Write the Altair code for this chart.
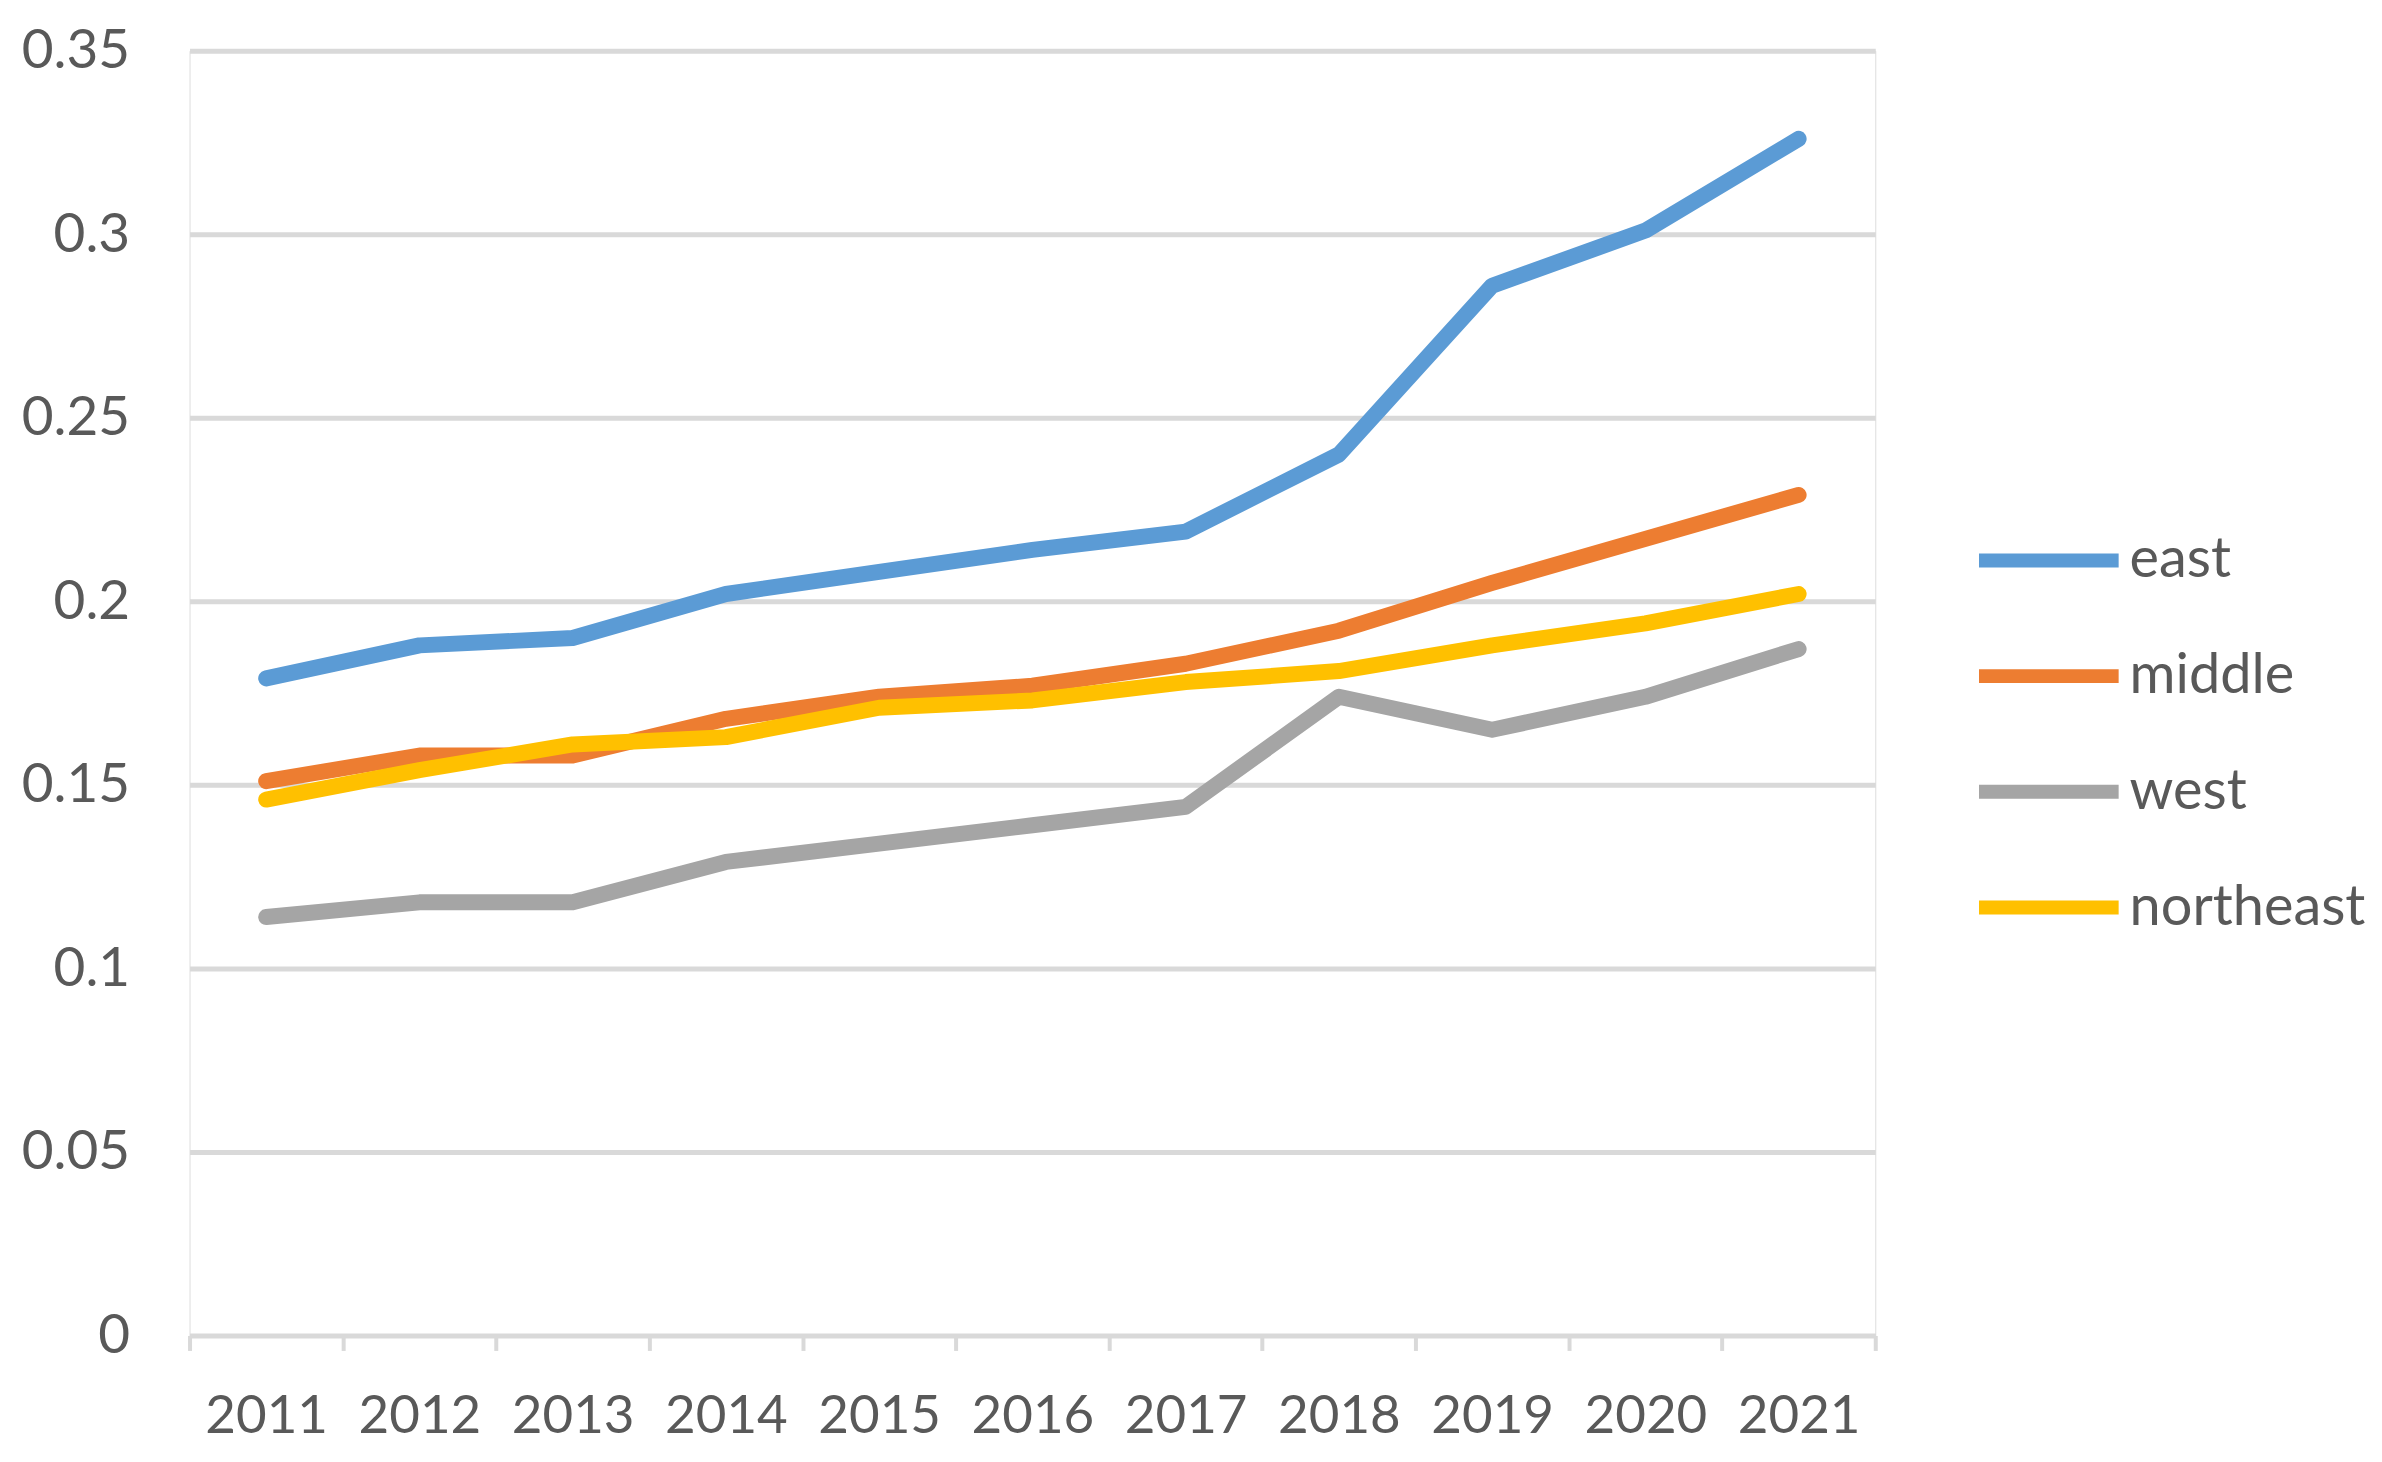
import altair as alt
import pandas as pd

years = [str(y) for y in range(2011, 2022)]
east = [0.179, 0.188, 0.190, 0.202, 0.208, 0.214, 0.219, 0.240, 0.286, 0.301, 0.326]
middle = [0.151, 0.158, 0.158, 0.168, 0.174, 0.177, 0.183, 0.192, 0.205, 0.217, 0.229]
west = [0.114, 0.118, 0.118, 0.129, 0.134, 0.139, 0.144, 0.174, 0.165, 0.174, 0.187]
northeast = [0.146, 0.154, 0.161, 0.163, 0.171, 0.173, 0.178, 0.181, 0.188, 0.194, 0.202]

series = {"east": east, "middle": middle, "west": west, "northeast": northeast}
order = list(series.keys())
colors = ["#5B9BD5", "#ED7D31", "#A5A5A5", "#FFC000"]

rows = []
for name, vals in series.items():
    for y, v in zip(years, vals):
        rows.append({"year": y, "value": v, "region": name})
df = pd.DataFrame(rows)

font = "Lato"
txt = "#595959"
gridc = "#d9d9d9"

chart = alt.Chart(df).mark_line(
    strokeWidth=16, strokeCap="round", strokeJoin="round"
).encode(
    x=alt.X(
        "year:N",
        title=None,
        bandPosition=0.5,
        scale=alt.Scale(type="band", paddingInner=0, paddingOuter=0),
        axis=alt.Axis(
            labelAngle=0, tickBand="extent", ticks=True, tickSize=15,
            tickColor=gridc, tickWidth=4, domainColor=gridc, domainWidth=4,
            grid=False, gridOpacity=0, gridColor="white",
            labelFont=font, labelFontSize=53,
            labelColor=txt, labelPadding=40,
        ),
    ),
    y=alt.Y(
        "value:Q",
        title=None,
        scale=alt.Scale(domain=[0, 0.35], nice=False),
        axis=alt.Axis(
            values=[0, 0.05, 0.1, 0.15, 0.2, 0.25, 0.3, 0.35], format="~g",
            ticks=False, domain=False, domainOpacity=0, grid=True,
            gridColor=gridc, gridWidth=5,
            labelFont=font, labelFontSize=55, labelColor=txt, labelPadding=60,
        ),
    ),
    color=alt.Color(
        "region:N",
        sort=order,
        scale=alt.Scale(domain=order, range=colors),
        legend=alt.Legend(
            title=None, orient="none", legendX=1787, legendY=434,
            symbolType="stroke", symbolSize=19600, symbolStrokeWidth=14,
            labelFont=font, labelFontSize=56, labelColor=txt, labelLimit=500,
            labelOffset=4, rowPadding=11,
        ),
    ),
).properties(
    width=1690, height=1288,
    padding={"left": 182, "top": 41, "right": 500, "bottom": 117},
    autosize=alt.AutoSizeParams(type="none"),
).configure_view(
    stroke=None, strokeOpacity=0, strokeWidth=0
).configure_axisX(grid=False).configure(background="white")

chart.save("out.html", embed_options={"renderer": "svg", "actions": False})
